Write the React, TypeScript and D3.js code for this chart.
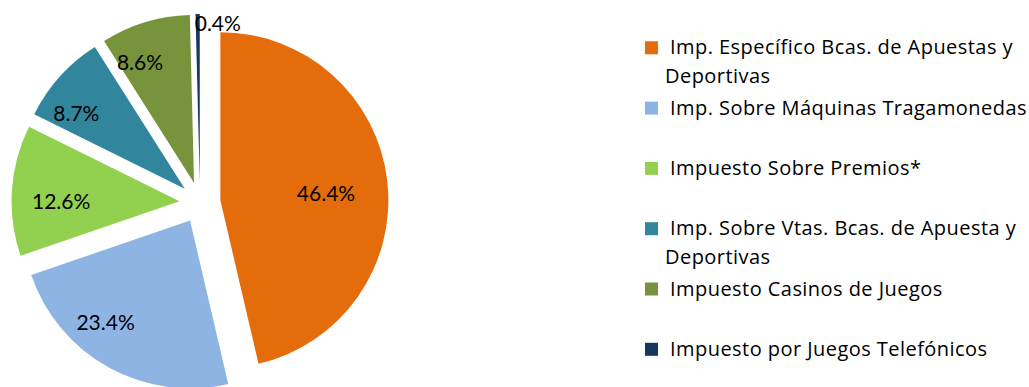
import React from "react";
import * as d3 from "d3";

const categories: string[] = [
  "Imp. Específico Bcas. de Apuestas y Deportivas",
  "Imp. Sobre Máquinas Tragamonedas",
  "Impuesto Sobre Premios*",
  "Imp. Sobre Vtas. Bcas. de Apuesta y Deportivas",
  "Impuesto Casinos de Juegos",
  "Impuesto por Juegos Telefónicos",
];
const legendLines: string[][] = [
  ["Imp. Específico Bcas. de Apuestas y", "Deportivas"],
  ["Imp. Sobre Máquinas Tragamonedas"],
  ["Impuesto Sobre Premios*"],
  ["Imp. Sobre Vtas. Bcas. de Apuesta y", "Deportivas"],
  ["Impuesto Casinos de Juegos"],
  ["Impuesto por Juegos Telefónicos"],
];
const values: number[] = [46.4, 23.4, 12.6, 8.7, 8.6, 0.4];
const labels: string[] = ["46.4%", "23.4%", "12.6%", "8.7%", "8.6%", "0.4%"];
const colors: string[] = ["#E46C0A", "#8EB4E3", "#92D050", "#31859C", "#77933C", "#17375E"];

// label placement (fraction of radius, angle shift in degrees) - layout only
const labelRadiusFrac: number[] = [0.63, 0.79, 0.705, 0.785, 0.788, 0.952];
const labelAngleShift: number[] = [3.1, 10.6, -3.6, -7.3, -7.2, 7.2];

const W = 1029;
const H = 387;
const CX = 200;
const CY = 202.5;
const R = 168;
const EXPLODE = 20.5;
const LABEL_FONT = "Lato, 'Open Sans', sans-serif";
const LEGEND_FONT = "'Open Sans', Lato, sans-serif";
const LABEL_SIZE = 21;
const LEGEND_SIZE = 20;
const LEGEND_SPACING = 0.45;

export default function App() {
  const pie = d3
    .pie<number>()
    .sort(null)
    .value((d) => d)
    .startAngle(0)
    .endAngle(2 * Math.PI);
  const arcs = pie(values);
  const arc = d3.arc<d3.PieArcDatum<number>>().innerRadius(0).outerRadius(R);

  const legendX = 645;
  const legendTop = 54.3;
  const legendStep = 60.3;
  const lineStep = 28.5;

  return (
    <svg
      width={W}
      height={H}
      style={{ position: "absolute", left: 0, top: 0, background: "#fff" }}
    >
      <g transform={`translate(${CX},${CY})`}>
        {arcs.map((a, i) => {
          const mid = (a.startAngle + a.endAngle) / 2;
          const ox = Math.sin(mid) * EXPLODE;
          const oy = -Math.cos(mid) * EXPLODE;
          return (
            <g key={i} transform={`translate(${ox},${oy})`}>
              <path d={arc(a) || ""} fill={colors[i]} />
            </g>
          );
        })}
        {arcs.map((a, i) => {
          const mid = (a.startAngle + a.endAngle) / 2;
          const ox = Math.sin(mid) * EXPLODE;
          const oy = -Math.cos(mid) * EXPLODE;
          const la = mid + (labelAngleShift[i] * Math.PI) / 180;
          const lr = labelRadiusFrac[i] * R;
          const lx = ox + Math.sin(la) * lr;
          const ly = oy - Math.cos(la) * lr;
          return (
            <text
              key={"l" + i}
              x={lx}
              y={ly + LABEL_SIZE * 0.36}
              textAnchor="middle"
              fontFamily={LABEL_FONT}
              fontSize={LABEL_SIZE}
              fill="#000"
            >
              {labels[i]}
            </text>
          );
        })}
      </g>
      <g>
        {categories.map((c, i) => {
          const base = legendTop + i * legendStep;
          return (
            <g key={c}>
              <rect x={legendX} y={base - 13} width={13} height={13} fill={colors[i]} />
              {legendLines[i].map((ln, j) => (
                <text
                  key={j}
                  x={j === 0 ? 670 : 665}
                  y={base + j * lineStep}
                  fontFamily={LEGEND_FONT}
                  fontSize={LEGEND_SIZE}
                  letterSpacing={LEGEND_SPACING}
                  fill="#000"
                >
                  {ln}
                </text>
              ))}
            </g>
          );
        })}
      </g>
    </svg>
  );
}
